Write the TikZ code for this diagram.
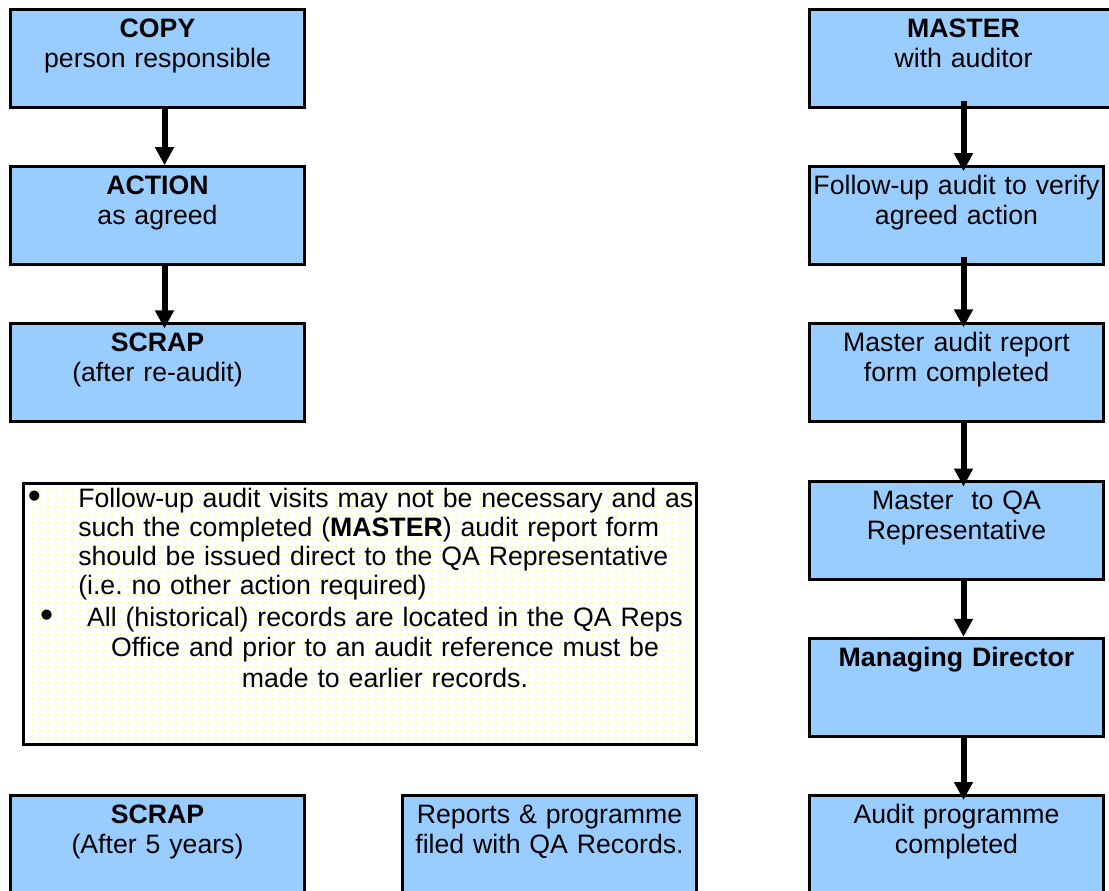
\documentclass[tikz,border=0pt]{standalone}
\usepackage{fontspec}
\setmainfont{Liberation Sans}
\usepackage{tikz}
\usetikzlibrary{arrows.meta}
\usetikzlibrary{patterns.meta}
\usetikzlibrary{positioning}

\definecolor{boxblue}{RGB}{153,204,255}
\newcommand{\notebullet}{\raisebox{-0.8pt}{\scalebox{1.4}{\textbullet}}}

\begin{document}
\begin{tikzpicture}
  [x=0.75pt,y=-0.75pt,
  box/.style={draw=black,line width=2.25pt,fill=boxblue,inner sep=0pt,anchor=north west,
    text width=220.5pt,align=center,text height=21pt,text depth=52.5pt,
    font=\fontsize{20}{22.5}\selectfont},
  notebox/.style={draw=black,line width=2.25pt,inner sep=0pt,anchor=north west,
    pattern={Dots[distance=6pt,radius=0.6pt]},pattern color=yellow},
  notetext/.style={inner sep=0pt,text height=0pt,font=\fontsize{20}{21.75}\selectfont},
  flow/.style={-{Triangle[width=13.5pt,length=13.5pt]},line width=4.5pt}]
  \useasboundingbox (0,0) rectangle (1109,891);

  % left column
  \node[box] (copy) at (9,8) {\textbf{COPY}\\person responsible};
  \node[box] (action) at (9,165.2) {\textbf{ACTION}\\as agreed};
  \node[box] (scrapaudit) at (9,322.4) {\textbf{SCRAP}\\(after re-audit)};

  % right column
  \node[box,text width=231pt] (master) at (808,8) {\textbf{MASTER}\\with auditor};
  \node[box] (followup) at (808,165.2) {Follow-up audit to verify\\agreed action};
  \node[box] (masterform) at (808,322.4) {Master audit report\\form completed};
  \node[box] (mastertoqa) at (808,479.6) {Master~ to QA\\Representative};
  \node[box] (director) at (808,636.8) {\textbf{Managing Director}};
  \node[box] (programme) at (808,794) {Audit programme\\completed};

  % bottom row
  \node[box] (scrapyears) at (9,794) {\textbf{SCRAP}\\(After 5 years)};
  \node[box] (reports) at (401,794) {Reports \& programme\\filed with QA Records.};

  % note
  \node[notebox,minimum width=504.6pt,minimum height=196.1pt] (note) at (21.75,481.5) {};
  \node[notetext,anchor=north west,text width=470pt,align=left] (notefirst) at (78,507)
    {\leavevmode\llap{\notebullet\hspace{28pt}}Follow-up audit visits may not be necessary and as\\
     such the completed (\textbf{MASTER}) audit report form\\
     should be issued direct to the QA Representative\\
     (i.e.\ no other action required)};
  \node[notetext,anchor=north,text width=450pt,align=center,
    font=\fontsize{20}{22.9}\selectfont] (notesecond) at (385,626)
    {\leavevmode\llap{\notebullet\hspace{25.5pt}}All (historical) records are located in the QA Reps\\
     Office and prior to an audit reference must be\\
     made to earlier records.};

  \draw [flow] ([xshift=5.25pt]copy.south) -- ([xshift=5.25pt]action.north);
  \draw [flow,shorten >=-4.5pt] ([xshift=5.25pt]action.south) -- ([xshift=5.25pt]scrapaudit.north);

  \draw [flow,shorten <=-6pt,shorten >=-4.5pt] (master.south) -- (master.south |- followup.north);
  \draw [flow,shorten <=-6.75pt,shorten >=-3.75pt] ([xshift=5.25pt]followup.south) -- ([xshift=5.25pt]masterform.north);
  \draw [flow,shorten <=-1.5pt,shorten >=-5.25pt] ([xshift=5.25pt]masterform.south) -- ([xshift=5.25pt]mastertoqa.north);
  \draw [flow] ([xshift=5.25pt]mastertoqa.south) -- ([xshift=5.25pt]director.north);
  \draw [flow,shorten >=-4.5pt] ([xshift=5.25pt]director.south) -- ([xshift=5.25pt]programme.north);

\end{tikzpicture}
\end{document}
